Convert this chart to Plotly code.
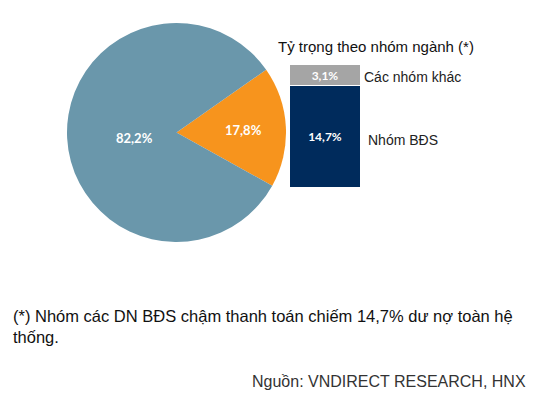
import plotly.graph_objects as go

W, H = 535, 394

# Data
pie_labels = ["Nhóm chậm thanh toán", "Còn lại"]
pie_values = [17.8, 82.2]
pie_text = ["17,8%", "82,2%"]
pie_colors = ["#F7941D", "#6A97AB"]

bar_groups = ["Nhóm BĐS", "Các nhóm khác"]
bar_values = [14.7, 3.1]
bar_text = ["14,7%", "3,1%"]
bar_colors = ["#002B5C", "#A5A5A5"]

title_text = "Tỷ trọng theo nhóm ngành (*)"
note_text = "(*) Nhóm các DN BĐS chậm thanh toán chiếm 14,7% dư nợ toàn hệ<br>thống."
source_text = "Nguồn: VNDIRECT RESEARCH, HNX"

def px(x):
    return x / W

def py(y):
    return 1 - y / H

fig = go.Figure()

fig.add_trace(go.Pie(
    labels=pie_labels, values=pie_values, sort=False, direction="clockwise",
    rotation=87 - pie_values[0] / 100 * 360 / 2,
    marker=dict(colors=pie_colors, line=dict(width=0)),
    textinfo="none", hoverinfo="none", showlegend=False,
    domain=dict(x=[px(67), px(286)], y=[py(242), py(23)]),
))

for g, v, c, t in zip(bar_groups, bar_values, bar_colors, bar_text):
    fig.add_trace(go.Bar(
        x=["s"], y=[v], name=g, marker=dict(color=c, line=dict(color="white", width=1)),
        showlegend=False, hoverinfo="none",
        text=[t], textposition="inside", insidetextanchor="middle",
        textfont=dict(family="Lato", size=12, color="white", weight="bold"),
    ))

fig.update_layout(
    barmode="stack", bargap=0,
    width=W, height=H, margin=dict(l=0, r=0, t=0, b=0),
    paper_bgcolor="white", plot_bgcolor="white",
    xaxis=dict(domain=[px(290), px(361)], visible=False, range=[-0.5, 0.5]),
    yaxis=dict(domain=[py(188), py(65)], visible=False, range=[0, sum(bar_values)]),
    uniformtext=dict(minsize=8, mode="show"),
)

ann = []
# pie labels
ann.append(dict(x=px(243), y=py(130), text="<b>" + pie_text[0] + "</b>"))
ann.append(dict(x=px(134), y=py(138), text="<b>" + pie_text[1] + "</b>"))
for a in ann:
    a.update(xref="paper", yref="paper", showarrow=False, xanchor="center", yanchor="middle",
             font=dict(family="Lato", size=13, color="white"))
common = dict(xref="paper", yref="paper", showarrow=False)
ann.append(dict(x=px(362), y=py(77), text=bar_groups[1], xanchor="left", yanchor="middle",
                font=dict(family="Liberation Sans", size=14, color="#222222"), **common))
ann.append(dict(x=px(366), y=py(140), text=bar_groups[0], xanchor="left", yanchor="middle",
                font=dict(family="Liberation Sans", size=14, color="#222222"), **common))
ann.append(dict(x=px(276), y=py(47), text=title_text, xanchor="left", yanchor="middle",
                font=dict(family="Liberation Sans", size=15, color="#111111"), **common))
ann.append(dict(x=px(11), y=py(305), text=note_text, xanchor="left", yanchor="top", align="left",
                font=dict(family="Liberation Sans", size=16.5, color="#111111"), **common))
ann.append(dict(x=px(528), y=py(381), text=source_text, xanchor="right", yanchor="middle",
                font=dict(family="Liberation Sans", size=16, color="#333333"), **common))
fig.update_layout(annotations=ann)

fig.write_html("out.html")
